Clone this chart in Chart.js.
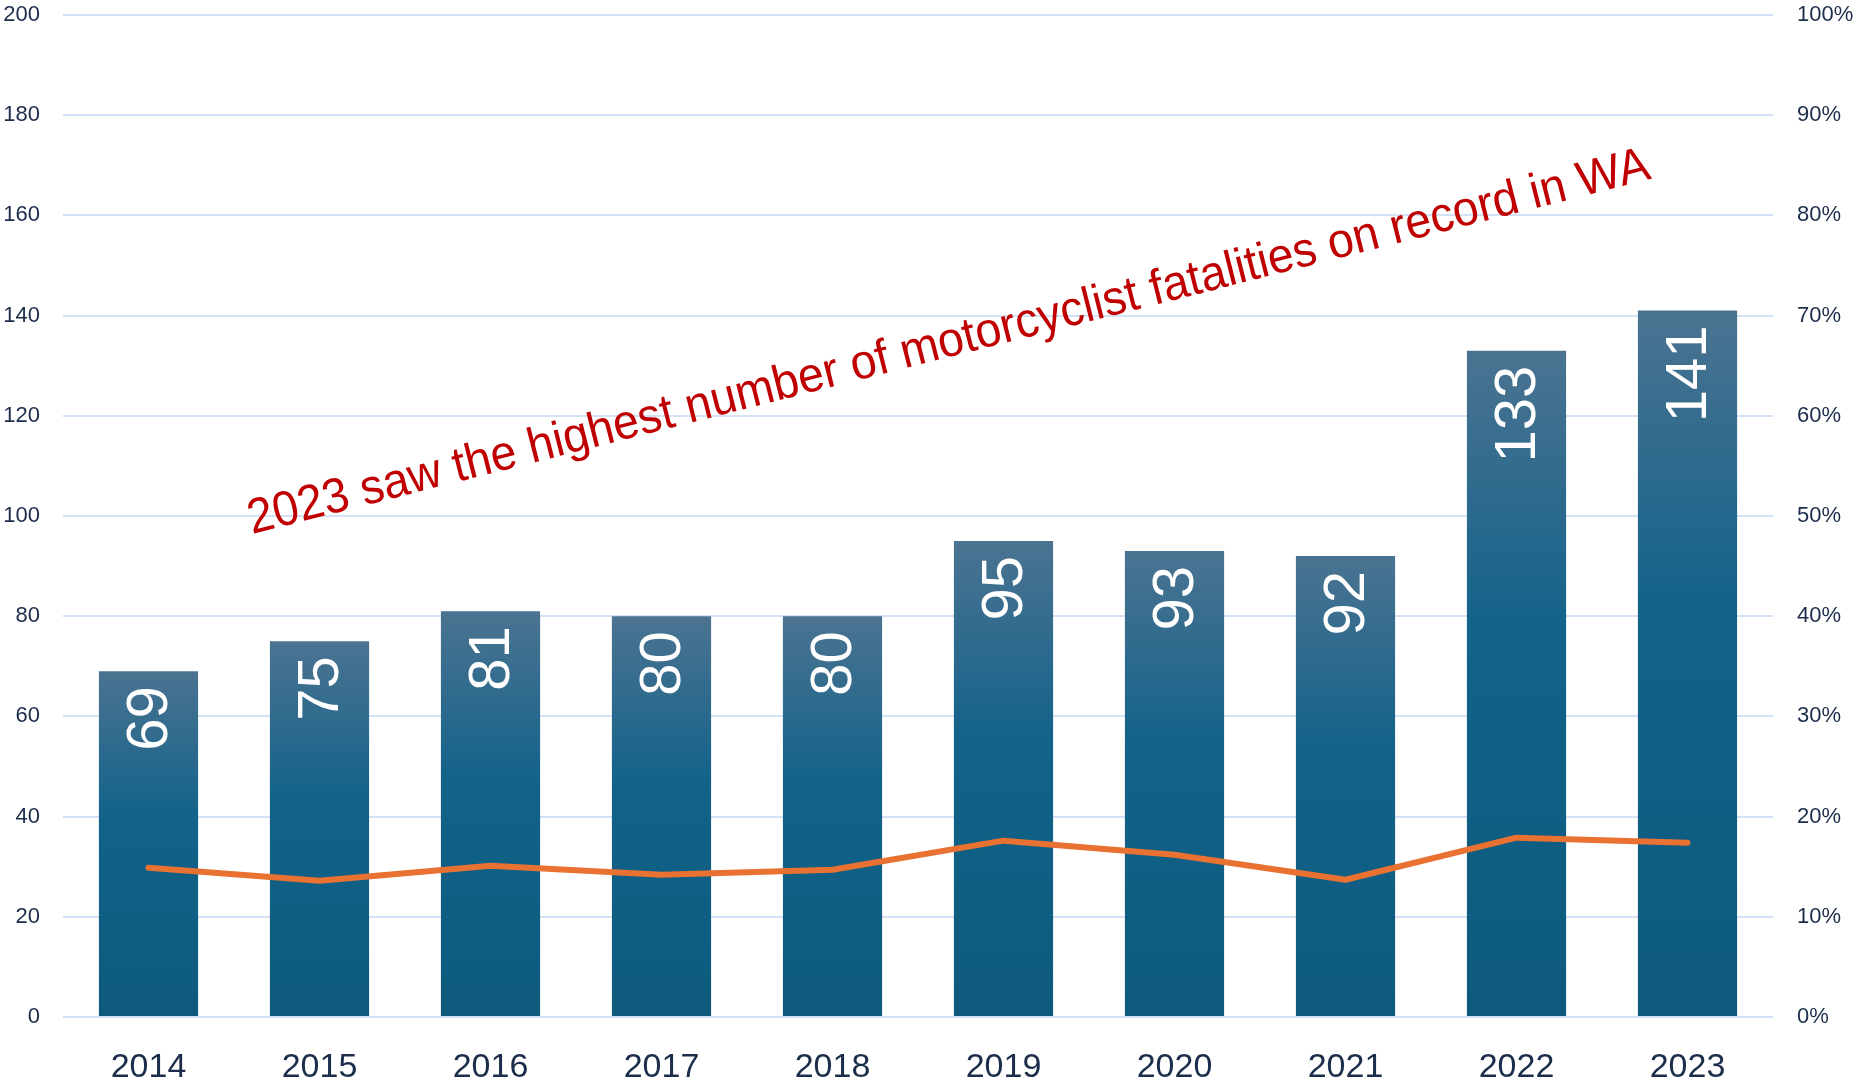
<!DOCTYPE html>
<html>
<head>
<meta charset="utf-8">
<script src="https://cdn.jsdelivr.net/npm/chart.js@4/dist/chart.umd.min.js"></script>
<style>
  html, body { margin: 0; padding: 0; background: #ffffff; }
  #wrap { width: 1853px; height: 1083px; position: relative; }
</style>
</head>
<body>
<div id="wrap"><canvas id="grafico"></canvas></div>
<script>
// datos
const years = ["2014", "2015", "2016", "2017", "2018", "2019", "2020", "2021", "2022", "2023"];
const fatalities = [69, 75, 81, 80, 80, 95, 93, 92, 133, 141];
const sharePct = [14.9, 13.6, 15.1, 14.2, 14.7, 17.6, 16.2, 13.7, 17.9, 17.4];
const leftTicks = { min: 0, max: 200, step: 20 };
const rightTicks = { min: 0, max: 100, step: 10 };
const noteText = "2023 saw the highest number of motorcyclist fatalities on record in WA";

const tickColor = "#1b2d4a";
const gridColor = "#d3e2f4";

// degradado de cada barra, de arriba hacia abajo
function barGradient(context) {
  const chart = context.chart;
  if (!chart.chartArea) return "#0e5a7c";
  const y = chart.scales.y;
  const top = y.getPixelForValue(context.raw);
  const bottom = y.getPixelForValue(0);
  const g = chart.ctx.createLinearGradient(0, top, 0, bottom);
  g.addColorStop(0, "#4b7391");
  g.addColorStop(0.42, "#12628a");
  g.addColorStop(1, "#0d5a7c");
  return g;
}

// quita el margen extra que deja cada eje por sus etiquetas
function sinPadding(s) {
  s.paddingTop = 0;
  s.paddingBottom = 0;
  s.paddingLeft = 0;
  s.paddingRight = 0;
}

// etiquetas verticales blancas dentro de las barras
const barLabels = {
  id: "barLabels",
  afterDatasetsDraw(chart) {
    const meta = chart.getDatasetMeta(1);
    const c = chart.ctx;
    c.save();
    c.fillStyle = "#ffffff";
    c.font = "58px 'Liberation Sans', Arial, sans-serif";
    c.textAlign = "right";
    c.textBaseline = "middle";
    meta.data.forEach(function (bar, i) {
      c.save();
      c.translate(bar.x + 2, bar.y + 15);
      c.rotate(-Math.PI / 2);
      c.fillText(String(fatalities[i]), 0, 0);
      c.restore();
    });
    c.restore();
  },
};

// texto inclinado en rojo
const note = {
  id: "note",
  afterDatasetsDraw(chart) {
    const c = chart.ctx;
    const x0 = 252, y0 = 534, x1 = 1654, y1 = 178;
    const angle = Math.atan2(y1 - y0, x1 - x0);
    const len = Math.hypot(x1 - x0, y1 - y0);
    c.save();
    c.font = "10px 'Liberation Sans', Arial, sans-serif";
    const w10 = c.measureText(noteText).width;
    const size = (10 * len) / w10;
    c.font = size.toFixed(1) + "px 'Liberation Sans', Arial, sans-serif";
    c.fillStyle = "#c00000";
    c.textAlign = "left";
    c.textBaseline = "alphabetic";
    c.translate(x0, y0);
    c.rotate(angle);
    c.scale(1, 1.06);
    c.fillText(noteText, 0, 0);
    c.restore();
  },
};

const ctx = document.getElementById("grafico").getContext("2d");
const grafico = new Chart(ctx, {
  data: {
    labels: years,
    datasets: [
      {
        type: "line",
        label: "Share",
        data: sharePct,
        yAxisID: "y1",
        borderColor: "#e97132",
        borderWidth: 6,
        borderCapStyle: "round",
        borderJoinStyle: "round",
        pointRadius: 0,
        tension: 0,
        fill: false,
      },
      {
        type: "bar",
        label: "Fatalities",
        data: fatalities,
        yAxisID: "y",
        backgroundColor: barGradient,
        borderWidth: 0,
        categoryPercentage: 1,
        barPercentage: 0.58,
      },
    ],
  },
  options: {
    responsive: true,
    maintainAspectRatio: false,
    animation: false,
    layout: { padding: { top: 15, right: 0, bottom: 0, left: 0 } },
    plugins: {
      legend: { display: false },
      tooltip: { enabled: false },
    },
    scales: {
      x: {
        grid: { display: false },
        border: { display: false },
        ticks: {
          color: tickColor,
          font: { family: "'Liberation Sans', Arial, sans-serif", size: 34 },
          padding: 22,
          maxRotation: 0,
        },
        afterFit: function (s) { sinPadding(s); s.height = 66; },
      },
      y: {
        position: "left",
        min: leftTicks.min,
        max: leftTicks.max,
        grid: { color: gridColor, lineWidth: 2, drawTicks: false },
        border: { display: false },
        ticks: {
          stepSize: leftTicks.step,
          color: tickColor,
          font: { family: "'Liberation Sans', Arial, sans-serif", size: 22 },
          padding: 23,
        },
        afterFit: function (s) { sinPadding(s); s.width = 63; },
      },
      y1: {
        position: "right",
        min: rightTicks.min,
        max: rightTicks.max,
        grid: { display: false, drawTicks: false },
        border: { display: false },
        ticks: {
          stepSize: rightTicks.step,
          color: tickColor,
          font: { family: "'Liberation Sans', Arial, sans-serif", size: 22 },
          padding: 24,
          callback: function (v) { return v + "%"; },
        },
        afterFit: function (s) { sinPadding(s); s.width = 80; },
      },
    },
  },
  plugins: [barLabels, note],
});
</script>
</body>
</html>
